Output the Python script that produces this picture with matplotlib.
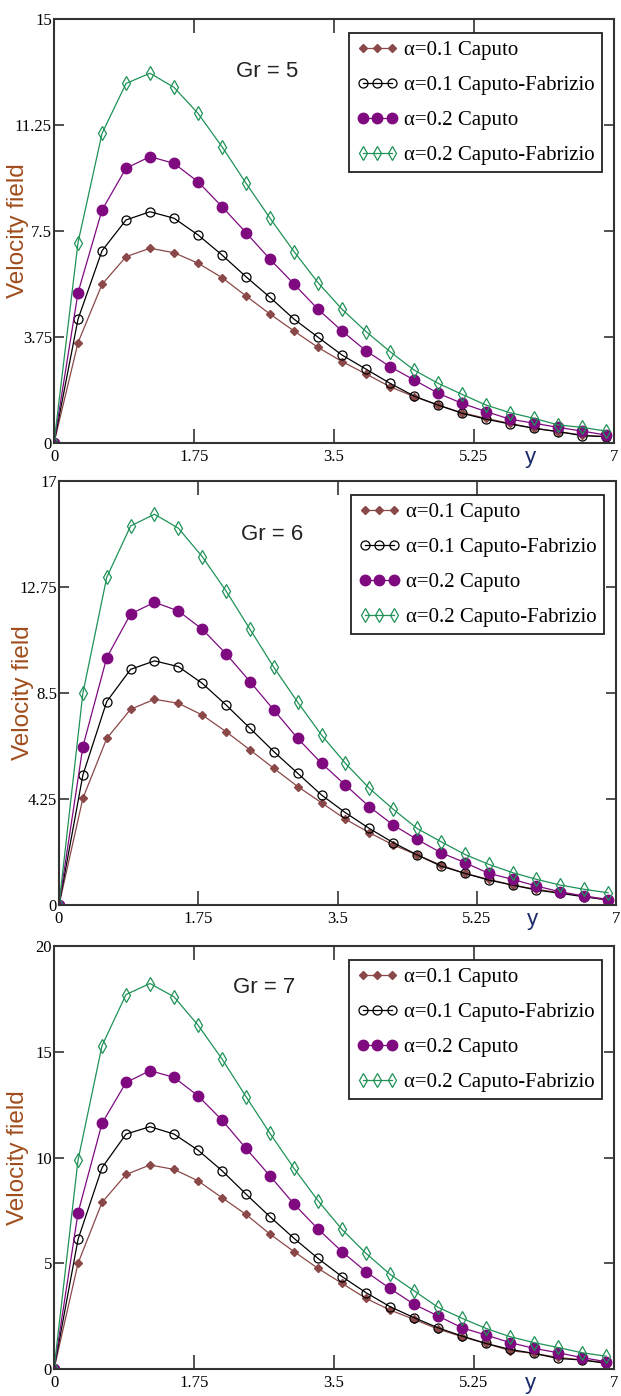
import numpy as np
import matplotlib
matplotlib.use("Agg")
import matplotlib.pyplot as plt

# y positions of the markers (same for every curve)
y_pos = [0, 0.3, 0.6, 0.9, 1.2, 1.5, 1.8, 2.1, 2.4, 2.7, 3.0, 3.3,
         3.6, 3.9, 4.2, 4.5, 4.8, 5.1, 5.4, 5.7, 6.0, 6.3, 6.6, 6.9]

# Gr = 5
brown5 = [0, 3.55, 5.61, 6.59, 6.89, 6.73, 6.36, 5.85, 5.20, 4.56, 3.96, 3.38,
          2.88, 2.44, 1.99, 1.64, 1.34, 1.07, 0.87, 0.69, 0.52, 0.40, 0.28, 0.22]
black5 = [0, 4.38, 6.80, 7.89, 8.18, 7.95, 7.36, 6.65, 5.88, 5.15, 4.38, 3.74,
          3.11, 2.61, 2.11, 1.66, 1.34, 1.05, 0.84, 0.67, 0.52, 0.40, 0.26, 0.22]
purple5 = [0, 5.32, 8.24, 9.72, 10.13, 9.89, 9.24, 8.36, 7.44, 6.50, 5.62, 4.73,
           3.96, 3.26, 2.70, 2.23, 1.76, 1.40, 1.11, 0.84, 0.70, 0.55, 0.42, 0.28]
green5 = [0, 7.09, 10.95, 12.72, 13.08, 12.58, 11.66, 10.48, 9.19, 7.95, 6.77, 5.67,
          4.73, 3.94, 3.23, 2.58, 2.11, 1.72, 1.34, 1.07, 0.87, 0.64, 0.55, 0.42]

# Gr = 6
brown6 = [0, 4.28, 6.68, 7.85, 8.25, 8.09, 7.62, 6.95, 6.22, 5.48, 4.75, 4.10,
          3.44, 2.90, 2.41, 2.01, 1.60, 1.27, 1.03, 0.80, 0.63, 0.49, 0.36, 0.23]
black6 = [0, 5.21, 8.16, 9.45, 9.79, 9.56, 8.89, 8.02, 7.09, 6.15, 5.28, 4.41,
          3.70, 3.07, 2.50, 2.01, 1.56, 1.27, 1.00, 0.80, 0.60, 0.47, 0.33, 0.20]
purple6 = [0, 6.35, 9.92, 11.67, 12.14, 11.79, 11.06, 10.07, 8.96, 7.82, 6.68, 5.68,
           4.81, 3.94, 3.21, 2.63, 2.10, 1.70, 1.27, 1.03, 0.76, 0.53, 0.36, 0.20]
green6 = [0, 8.49, 13.14, 15.20, 15.67, 15.11, 13.97, 12.59, 11.06, 9.53, 8.13, 6.81,
          5.68, 4.68, 3.84, 3.07, 2.54, 2.03, 1.63, 1.30, 1.03, 0.80, 0.63, 0.49]

# Gr = 7
brown7 = [0, 5.00, 7.88, 9.20, 9.65, 9.44, 8.90, 8.10, 7.31, 6.38, 5.55, 4.76,
          4.05, 3.34, 2.79, 2.35, 1.89, 1.53, 1.21, 0.87, 0.74, 0.55, 0.43, 0.32]
black7 = [0, 6.13, 9.52, 11.11, 11.46, 11.11, 10.35, 9.38, 8.27, 7.20, 6.18, 5.23,
          4.37, 3.61, 2.95, 2.43, 1.95, 1.56, 1.21, 0.93, 0.74, 0.50, 0.43, 0.27]
purple7 = [0, 7.39, 11.62, 13.55, 14.11, 13.79, 12.92, 11.77, 10.43, 9.13, 7.80, 6.62,
           5.55, 4.60, 3.81, 3.06, 2.51, 1.95, 1.61, 1.25, 0.98, 0.77, 0.54, 0.35]
green7 = [0, 9.88, 15.29, 17.71, 18.23, 17.60, 16.26, 14.66, 12.88, 11.14, 9.49, 7.96,
          6.60, 5.47, 4.48, 3.70, 2.92, 2.40, 1.92, 1.53, 1.25, 1.02, 0.77, 0.61]

labels = ["α=0.1 Caputo", "α=0.1 Caputo-Fabrizio",
          "α=0.2 Caputo", "α=0.2 Caputo-Fabrizio"]
gr_values = ["Gr = 5", "Gr = 6", "Gr = 7"]
x_ticks = [0, 1.75, 3.5, 5.25, 7]
x_ticklabels = ["0", "1.75", "3.5", "5.25", "7"]
y_ticks5 = [0, 3.75, 7.5, 11.25, 15]
y_ticks6 = [0, 4.25, 8.5, 12.75, 17]
y_ticks7 = [0, 5, 10, 15, 20]
y_ticklabels5 = ["0", "3.75", "7.5", "11.25", "15"]
y_ticklabels6 = ["0", "4.25", "8.5", "12.75", "17"]
y_ticklabels7 = ["0", "5", "10", "15", "20"]

panels = [
    ([brown5, black5, purple5, green5], y_ticks5, y_ticklabels5),
    ([brown6, black6, purple6, green6], y_ticks6, y_ticklabels6),
    ([brown7, black7, purple7, green7], y_ticks7, y_ticklabels7),
]

# axes rectangles [left, bottom, width, height] in figure fractions
rects = [[0.087, 0.6827, 0.9018, 0.3037],
         [0.095, 0.3517, 0.897, 0.3037],
         [0.087, 0.0193, 0.9018, 0.303]]
gr_pos = [(0.38, 0.875), (0.383, 0.875), (0.376, 0.903)]

styles = [
    dict(color="#8b4848", marker="D", ms=4.5, mfc="#8b4848", mec="#8b4848"),
    dict(color="black", marker="o", ms=6.5, mfc="none", mec="black", mew=0.9),
    dict(color="#7f0a80", marker="o", ms=7.5, mfc="#7f0a80", mec="#7f0a80"),
    dict(color="#1f9257", marker="d", ms=7, mfc="none", mec="#1f9257", mew=0.9),
]

serif = "Liberation Serif"
sans = "Liberation Sans"

fig = plt.figure(figsize=(6.21, 13.96), dpi=100)

for k in range(3):
    series, yt, ytl = panels[k]
    ax = fig.add_axes(rects[k])
    for s in range(4):
        ax.plot(y_pos, series[s], lw=0.9, label=labels[s], **styles[s])
    ax.set_xlim(0, 7)
    ax.set_ylim(yt[0], yt[-1])
    ax.set_xticks(x_ticks)
    ax.set_xticklabels(x_ticklabels, fontfamily=serif, fontsize=12)
    ax.set_yticks(yt)
    ax.set_yticklabels(ytl, fontfamily=serif, fontsize=12)
    ax.tick_params(axis="x", direction="in", length=10, width=1.2,
                   top=True, pad=4, colors="#333333", labelcolor="black")
    ax.tick_params(axis="y", direction="in", length=7, width=1.2,
                   right=True, pad=1.5, colors="#333333", labelcolor="black")
    for sp in ax.spines.values():
        sp.set_linewidth(1.5)
        sp.set_color("#333333")
    ax.set_ylabel("Velocity field", fontfamily=sans, fontsize=17.5,
                  color="#a04d1c")
    ax.yaxis.set_label_coords(-0.045, 0.5)
    ax.text(5.95, -0.01, "y", transform=ax.get_xaxis_transform(),
            ha="center", va="top", fontfamily=sans, fontsize=16,
            color="#1a2a6a")
    ax.text(gr_pos[k][0], gr_pos[k][1], gr_values[k], transform=ax.transAxes,
            ha="center", va="center", fontfamily=sans, fontsize=16,
            color="#222222")
    leg = ax.legend(loc="upper right", bbox_to_anchor=(0.979, 0.967),
                    prop={"family": serif, "size": 15}, numpoints=3,
                    handlelength=2.0, handletextpad=0.3, labelspacing=0.74,
                    borderpad=0.35, borderaxespad=0.0, fancybox=False,
                    framealpha=1.0, edgecolor="#222222")
    leg.get_frame().set_linewidth(1.3)

fig.savefig("out.png", dpi=100)
